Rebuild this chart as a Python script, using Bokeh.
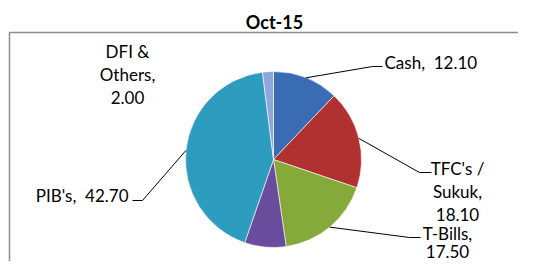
import numpy as np
from bokeh.plotting import figure
from bokeh.models import Range1d, ColumnDataSource
from bokeh.core.properties import value
from bokeh.embed import file_html
from bokeh.resources import INLINE

chart_title = "Oct-15"
names = ["Cash", "TFC's / Sukuk", "T-Bills", "Others (unlabelled)", "PIB's", "DFI & Others"]
values = [12.10, 18.10, 17.50, 7.60, 42.70, 2.00]
colors = ["#3A6CB3", "#B0312F", "#86AA3A", "#6A4C9C", "#2E9CBF", "#8FA6DC"]
# how each label is broken into lines (name parts); value appended
name_parts = [["Cash,"], ["TFC's /", "Sukuk,"], ["T-Bills,"], None, ["PIB's,"], ["DFI &", "Others,"]]
value_inline = [True, False, False, None, True, False]

W, H = 518, 261
OFF = 1
def fx(xi):  # image px -> figure x
    return xi - OFF
def fy(yi):
    return H + OFF - yi

FONT = "Lato"
FS = "17px"

p = figure(width=W, height=H, x_range=Range1d(0, W), y_range=Range1d(0, H),
           output_backend="svg", toolbar_location=None, min_border=0,
           x_axis_location=None, y_axis_location=None)
p.grid.visible = False
p.outline_line_color = None
p.background_fill_color = "white"
p.border_fill_color = "white"

# chart area frame (top and left edges; right/bottom lie outside the view)
p.line(x=[fx(10), fx(10), fx(600)], y=[fy(400), fy(33), fy(33)],
       line_color="#8C8C8C", line_width=1.5)

# title
p.text(x=[fx(275)], y=[fy(22)], text=[chart_title], text_font=value(FONT),
       text_font_size="18px", text_font_style="bold", text_align="center",
       text_baseline="middle", text_color="black")

# pie
cx, cy, r = fx(274), fy(160), 88
vals = np.array(values)
total = vals.sum()
cum = np.concatenate([[0], np.cumsum(vals)])
start = np.pi / 2 - 2 * np.pi * cum[:-1] / total
end = np.pi / 2 - 2 * np.pi * cum[1:] / total
mid = (start + end) / 2
src = ColumnDataSource(dict(x=[cx] * len(vals), y=[cy] * len(vals), start=start, end=end,
                            color=colors, name=names))
p.wedge(x="x", y="y", radius=r, start_angle="start", end_angle="end", direction="clock",
        fill_color="color", line_color="white", line_width=0.6, source=src)

# label layout (image px): anchor, align, line ys, leader elbow/end
label_layout = [
    dict(x=385, ys=[63], align="left", elbow=(373, 67), end=(383, 67)),
    dict(x=458, ys=[169, 192, 215], align="center", elbow=(420, 173), end=(432, 173)),
    dict(x=448, ys=[234, 252], align="center", elbow=(410, 238), end=(421, 238)),
    None,
    dict(x=129, ys=[196], align="right", elbow=(143, 201), end=(133, 201)),
    dict(x=128, ys=[52, 75, 98], align="center", elbow=None, end=None),
]

for i, lay in enumerate(label_layout):
    if lay is None:
        continue
    vtxt = f"{values[i]:.2f}"
    parts = list(name_parts[i])
    if value_inline[i]:
        parts[-1] = parts[-1] + "\u00a0 " + vtxt
    else:
        parts.append(vtxt)
    p.text(x=[fx(lay["x"])] * len(parts), y=[fy(y) for y in lay["ys"]], text=parts,
           text_font=value(FONT), text_font_size=FS, text_align=lay["align"],
           text_baseline="middle", text_color="black")
    if lay["elbow"] is not None:
        sx = cx + r * np.cos(mid[i])
        sy = cy + r * np.sin(mid[i])
        p.line(x=[sx, fx(lay["elbow"][0]), fx(lay["end"][0])],
               y=[sy, fy(lay["elbow"][1]), fy(lay["end"][1])],
               line_color="black", line_width=1)

open("out.html", "w").write(file_html(p, INLINE))
